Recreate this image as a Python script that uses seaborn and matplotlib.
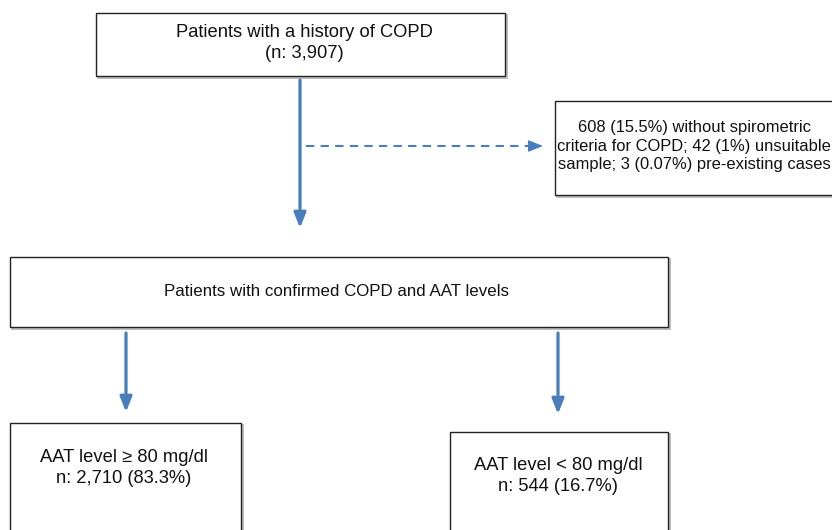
import matplotlib
matplotlib.use("Agg")
import matplotlib.pyplot as plt
from matplotlib.patches import Rectangle, FancyArrowPatch
import seaborn as sns

# flow values
total_n = 3907
excluded_n = [608, 42, 3]
excluded_pct = ["15.5%", "1%", "0.07%"]
high_aat_n = 2710
high_aat_pct = "83.3%"
low_aat_n = 544
low_aat_pct = "16.7%"

box_texts = [
    "Patients with a history of COPD\n(n: {:,})".format(total_n),
    "{} ({}) without spirometric\ncriteria for COPD; {} ({}) unsuitable\nsample; {} ({}) pre-existing cases".format(
        excluded_n[0], excluded_pct[0], excluded_n[1], excluded_pct[1], excluded_n[2], excluded_pct[2]),
    "Patients with confirmed COPD and AAT levels",
    "AAT level \u2265 80 mg/dl\nn: {:,} ({})".format(high_aat_n, high_aat_pct),
    "AAT level < 80 mg/dl\nn: {:,} ({})".format(low_aat_n, low_aat_pct),
]

# layout in pixel coords (x0, y0, x1, y1), text centre, font size
boxes = [
    (96, 13, 505, 76, 304, 43, 13.2),
    (555, 101, 834, 195, 694, 146, 11.9),
    (10, 257, 668, 327, 336, 292, 12.2),
    (10, 423, 241, 535, 124, 468, 13.2),
    (450, 432, 668, 535, 558, 476, 13.2),
]
arrows = [
    (300, 80, 300, 228, "solid"),
    (306, 146, 543, 146, "dashed"),
    (126, 333, 126, 412, "solid"),
    (558, 333, 558, 414, "solid"),
]

sns.set_theme(style="white")
plt.rcParams["font.family"] = ["Liberation Sans", "DejaVu Sans"]
blue = "#4A7EBB"
head = "-|>,head_length=9,head_width=3.6"

fig = plt.figure(figsize=(8.32, 5.30), dpi=100)
ax = fig.add_axes([0, 0, 1, 1])
ax.set_xlim(0, 832)
ax.set_ylim(530, 0)
ax.axis("off")

for (x0, y0, x1, y1, tx, ty, fs), txt in zip(boxes, box_texts):
    # faint shadow
    ax.add_patch(Rectangle((x0 + 1.5, y0 + 1.5), x1 - x0, y1 - y0, facecolor="none",
                           edgecolor="#b0b0b0", lw=1.2, zorder=1))
    ax.add_patch(Rectangle((x0, y0), x1 - x0, y1 - y0, facecolor="white",
                           edgecolor="#222222", lw=1.0, zorder=2))
    ax.text(tx, ty, txt, ha="center", va="center", fontsize=fs, color="#111111",
            linespacing=1.27, zorder=3)

for x0, y0, x1, y1, style in arrows:
    if style == "solid":
        ax.add_patch(FancyArrowPatch((x0, y0), (x1, y1), arrowstyle=head,
                                     color=blue, lw=2.3, mutation_scale=1, shrinkA=0, shrinkB=0, zorder=2))
    else:
        ax.plot([x0, x1 - 12], [y0, y1], color=blue, lw=1.5, ls=(0, (4, 3)), zorder=2)
        ax.add_patch(FancyArrowPatch((x1 - 14, y1), (x1, y1), arrowstyle=head,
                                     color=blue, lw=1, mutation_scale=1, shrinkA=0, shrinkB=0, zorder=2))

fig.savefig("out.png", dpi=100)
